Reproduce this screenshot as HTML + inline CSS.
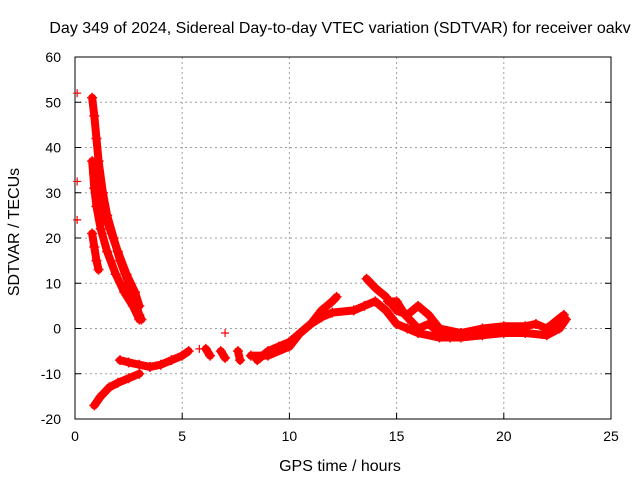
<!DOCTYPE html>
<html><head><meta charset="utf-8"><style>
body{margin:0;background:#fff;}
svg text{font-family:"Liberation Sans",sans-serif;font-size:14px;fill:#000;}
svg text.big{font-size:16px;}
</style></head><body>
<svg id="chart" width="640" height="480" viewBox="0 0 640 480">
<text class="big" x="340" y="33" text-anchor="middle">Day 349 of 2024, Sidereal Day-to-day VTEC variation (SDTVAR) for receiver oakv</text>
<g id="grid"></g>
<g id="axes"></g>
<g id="marks"></g>
<text class="big" x="340" y="471" text-anchor="middle">GPS time / hours</text>
<text class="big" transform="translate(19,232) rotate(-90)" text-anchor="middle">SDTVAR / TECUs</text>
</svg>
<script>
const xTicks=[0,5,10,15,20,25];
const yTicks=[-20,-10,0,10,20,30,40,50,60];
const trackA=[[0.8,51],[0.9,47],[1.0,42],[1.1,37],[1.3,30],[1.5,25],[1.8,20],[2.1,15],[2.5,10],[2.8,6],[3.0,3],[3.1,2]];
const trackA2=[[1.0,36],[1.2,30],[1.4,25],[1.7,21],[2.0,17],[2.4,12],[2.8,8],[3.0,5]];
const trackB=[[0.8,37],[0.9,31],[1.0,27],[1.2,22],[1.5,17],[1.9,12],[2.3,8],[2.7,5],[3.0,2]];
const trackC=[[0.8,21],[0.9,18],[1.0,15],[1.1,13]];
const trackD=[[0.9,-17],[1.2,-15],[1.6,-13],[2.0,-12],[2.5,-11],[3.0,-10]];
const trackE=[[2.1,-7],[2.5,-7.5],[3.0,-8],[3.5,-8.5],[4.0,-8],[4.5,-7],[5.0,-6],[5.3,-5]];
const trackJ=[[6.1,-4.5],[6.3,-6]];
const trackK=[[6.8,-5],[7.0,-6.5]];
const trackL=[[7.6,-5],[7.7,-7]];
const trackF=[[8.5,-7],[9.0,-5],[9.5,-4],[10,-3],[10.5,-1],[11,1],[11.5,4],[12.0,6],[12.2,7]];
const trackG=[[8.2,-6],[9,-6],[10,-4],[10.5,-1],[11,1],[11.5,2.5],[12.0,3.5],[13,4],[13.5,5],[14,6],[14.5,4],[15,1],[15.5,0],[16,-1],[17,-2],[18,-2],[19,-1.5],[20,-1],[21,-1],[22,-1.5],[22.6,0],[22.9,2]];
const trackH=[[13.6,11],[14,9],[14.5,7],[15,4],[15.5,3],[16,5],[16.5,3],[17,0],[18,-1],[19,0],[20,0.5],[21,0.5],[21.5,1],[22,0],[22.8,3]];
const trackI=[[14.6,6],[15,6],[15.4,3],[16,0],[16.5,1],[17,-1],[17.5,-2]];
const singles=[[0.1,52],[0.1,32.5],[0.1,24],[5.8,-4.5],[7.0,-1]];
const tracks=[trackA,trackA2,trackB,trackC,trackD,trackE,trackJ,trackK,trackL,trackF,trackG,trackH,trackI];
const X0=75,X1=611,Y0=419,Y1=57;
function sx(v){return X0+(v-0)/25*(X1-X0);}
function sy(v){return Y0-(v+20)/80*(Y0-Y1);}
const NS="http://www.w3.org/2000/svg";
function mk(t,a,p){const e=document.createElementNS(NS,t);for(const k in a)e.setAttribute(k,a[k]);p.appendChild(e);return e;}
const grid=document.getElementById('grid'),axes=document.getElementById('axes'),marks=document.getElementById('marks');
xTicks.forEach(t=>{
  if(t>0&&t<25){const l=mk('line',{x1:sx(t),x2:sx(t),y1:Y1,y2:Y0,stroke:'#a0a0a0','stroke-dasharray':'2,3'},grid);
  
  }
  mk('line',{x1:sx(t),x2:sx(t),y1:Y0,y2:Y0-6,stroke:'#000'},axes);
  const tx=mk('text',{x:sx(t),y:Y0+22,'text-anchor':'middle'},axes);tx.textContent=t;
  
  
});
yTicks.forEach(t=>{
  if(t>-20&&t<60){const l=mk('line',{x1:X0,x2:X1,y1:sy(t),y2:sy(t),stroke:'#a0a0a0','stroke-dasharray':'2,3'},grid);
  
  }
  mk('line',{x1:X0,x2:X0+6,y1:sy(t),y2:sy(t),stroke:'#000'},axes);
  mk('line',{x1:X1,x2:X1-6,y1:sy(t),y2:sy(t),stroke:'#000'},axes);
  const tx=mk('text',{x:X0-14,y:sy(t)+5,'text-anchor':'end'},axes);tx.textContent=t;
  
  
});
const frame=mk('rect',{x:X0,y:Y1,width:X1-X0,height:Y0-Y1,fill:'none',stroke:'#000'},axes);


tracks.forEach(tr=>{
  const pl=mk('polyline',{points:tr.map(p=>sx(p[0])+','+sy(p[1])).join(' '),fill:'none',stroke:'#f00','stroke-width':8,'stroke-linejoin':'round','stroke-linecap':'round'},marks);
  
  
  tr.forEach(p=>{
    const m=mk('path',{d:`M${sx(p[0])-5},${sy(p[1])}h10M${sx(p[0])},${sy(p[1])-5}v10`,stroke:'#f00','stroke-width':1.5},marks);
    
    
  });
});
singles.forEach(p=>{
  const m=mk('path',{d:`M${sx(p[0])-4},${sy(p[1])}h8M${sx(p[0])},${sy(p[1])-4}v8`,stroke:'#f00','stroke-width':1.2},marks);
  
  
});
</script>
</body></html>
